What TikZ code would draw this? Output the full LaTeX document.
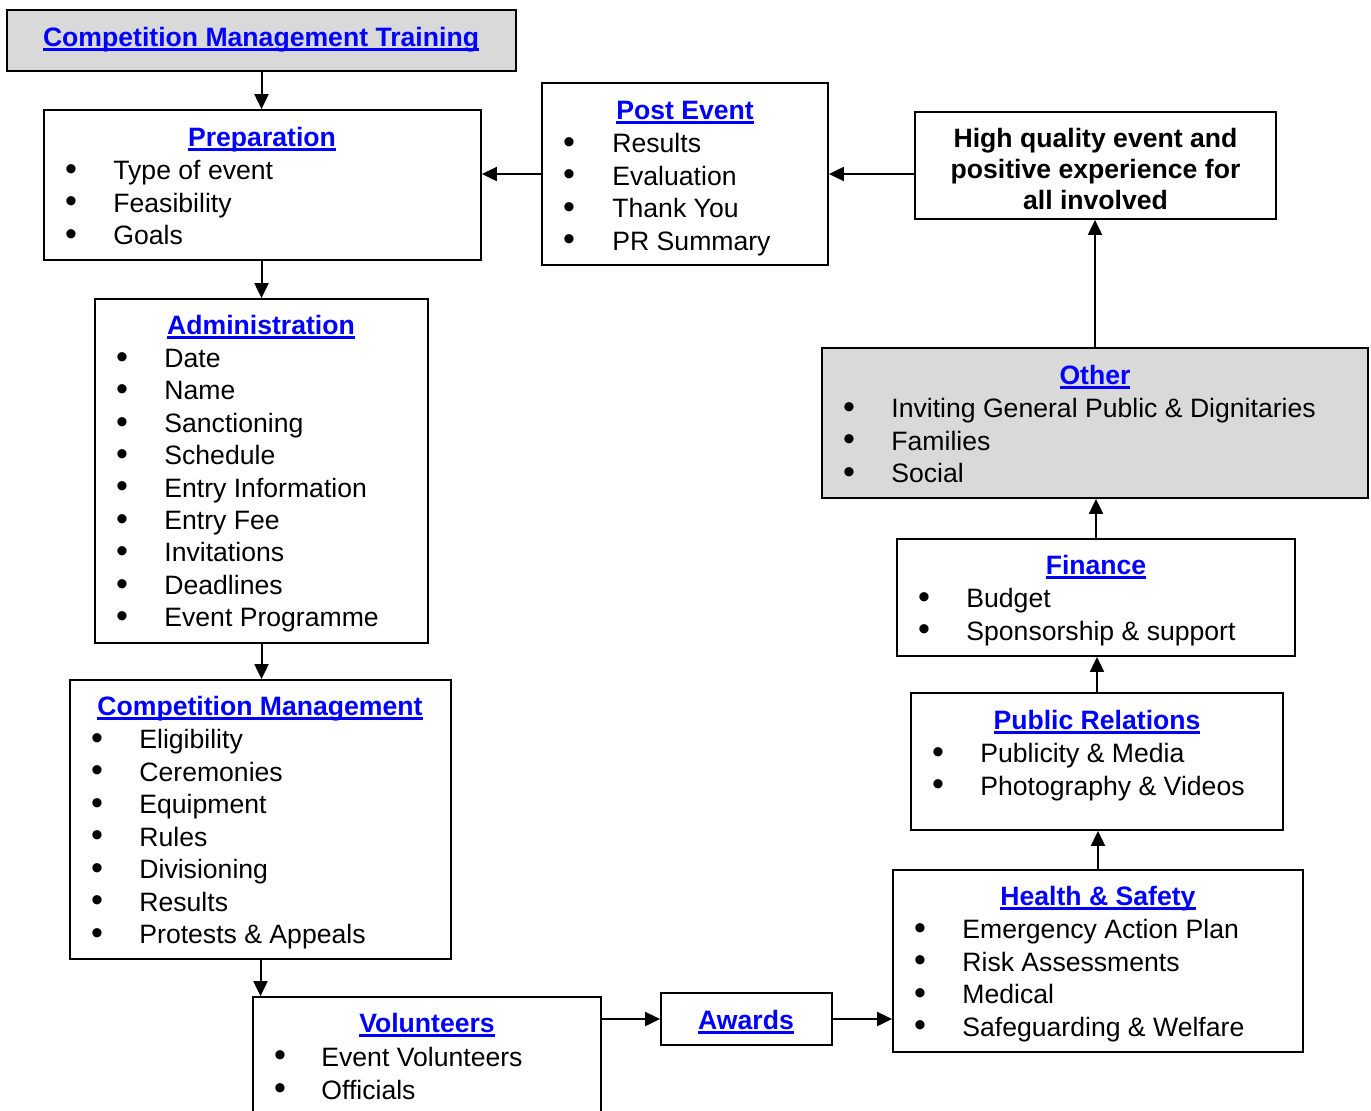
\documentclass[tikz,border=0pt]{standalone}
\usepackage{fontspec}
\setmainfont{Liberation Sans}
\usetikzlibrary{arrows.meta}
\definecolor{linkblue}{RGB}{0,0,255}
\definecolor{boxgray}{RGB}{217,217,217}
\newcommand{\linktitle}[1]{\setbox0\hbox{#1}\rlap{\rule[-2.3pt]{\wd0}{1.1pt}}\box0}

\begin{document}
\begin{tikzpicture}[x=0.5pt, y=-0.5pt,
    box/.style={draw, line width=0.9pt, inner sep=0pt},
    greybox/.style={box, fill=boxgray},
    title/.style={font=\fontsize{13.3pt}{16pt}\selectfont\bfseries, text=linkblue, anchor=base, inner sep=0pt},
    entry/.style={font=\fontsize{13.3pt}{16pt}\selectfont, anchor=base west, inner sep=0pt},
    bul/.style={font=\fontsize{17pt}{17pt}\selectfont, inner sep=0pt},
    arrow/.style={-{Triangle[length=7.5pt, width=7pt]}, line width=1pt},
]
\clip (0,0) rectangle (1371,1110);

% Training
\node[greybox, minimum width=254.5pt, minimum height=30.5pt] (train) at (261.5,40.5) {};
\node[title] (train-t) at (261,46) {\linktitle{Competition Management Training}};

% Preparation
\node[box, minimum width=218.5pt, minimum height=75pt] (prep) at (262.5,185) {};
\node[title] (prep-t) at (262,146) {\linktitle{Preparation}};
\foreach \t [count=\i] in {Type of event, Feasibility, Goals} {
  \node[bul] (prep-b\i) at (71,{146+32.5*\i-6}) {•};
  \node[entry] (prep-e\i) at (113,{147+32.5*\i}) {\t};
}

% Administration
\node[box, minimum width=166.5pt, minimum height=172pt] (admin) at (261.5,471) {};
\node[title] (admin-t) at (261,334) {\linktitle{Administration}};
\foreach \t [count=\i] in {Date, Name, Sanctioning, Schedule, Entry Information, Entry Fee, Invitations, Deadlines, Event Programme} {
  \node[bul] (admin-b\i) at (122,{334+32.4*\i-6}) {•};
  \node[entry] (admin-e\i) at (164,{335+32.4*\i}) {\t};
}

% Competition Management
\node[box, minimum width=190.5pt, minimum height=139.5pt] (comp) at (260.5,819.5) {};
\node[title] (comp-t) at (260,715) {\linktitle{Competition Management}};
\foreach \t [count=\i] in {Eligibility, Ceremonies, Equipment, Rules, Divisioning, Results, Protests \& Appeals} {
  \node[bul] (comp-b\i) at (97,{715+32.5*\i-6}) {•};
  \node[entry] (comp-e\i) at (139,{716+32.5*\i}) {\t};
}

% Volunteers
\node[box, minimum width=174pt, minimum height=66.5pt] (vol) at (427,1063.5) {};
\node[title] (vol-t) at (427,1032) {\linktitle{Volunteers}};
\foreach \t [count=\i] in {Event Volunteers, Officials} {
  \node[bul] (vol-b\i) at (280,{1032+33*\i-6}) {•};
  \node[entry] (vol-e\i) at (321,{1033+33*\i}) {\t};
}

% Awards
\node[box, minimum width=85.5pt, minimum height=26pt] (awards) at (746.5,1019) {};
\node[title] (awards-t) at (746,1029) {\linktitle{Awards}};

% Health & Safety
\node[box, minimum width=205pt, minimum height=91pt] (hs) at (1098,961) {};
\node[title] (hs-t) at (1098,905) {\linktitle{Health \& Safety}};
\foreach \t [count=\i] in {Emergency Action Plan, Risk Assessments, Medical, Safeguarding \& Welfare} {
  \node[bul] (hs-b\i) at (920,{905+32.5*\i-6}) {•};
  \node[entry] (hs-e\i) at (962,{906+32.5*\i}) {\t};
}

% Public Relations
\node[box, minimum width=186pt, minimum height=68.5pt] (pr) at (1097,761.5) {};
\node[title] (pr-t) at (1097,729) {\linktitle{Public Relations}};
\foreach \t [count=\i] in {Publicity \& Media, Photography \& Videos} {
  \node[bul] (pr-b\i) at (938,{729+32.5*\i-6}) {•};
  \node[entry] (pr-e\i) at (980,{730+32.5*\i}) {\t};
}

% Finance
\node[box, minimum width=199pt, minimum height=58.5pt] (fin) at (1096,597.5) {};
\node[title] (fin-t) at (1096,574) {\linktitle{Finance}};
\foreach \t [count=\i] in {Budget, Sponsorship \& support} {
  \node[bul] (fin-b\i) at (924,{574+32.5*\i-6}) {•};
  \node[entry] (fin-e\i) at (966,{575+32.5*\i}) {\t};
}

% Other
\node[greybox, minimum width=273pt, minimum height=75pt] (other) at (1095,423) {};
\node[title] (other-t) at (1095,384) {\linktitle{Other}};
\foreach \t [count=\i] in {Inviting General Public \& Dignitaries, Families, Social} {
  \node[bul] (other-b\i) at (849,{384+32.5*\i-6}) {•};
  \node[entry] (other-e\i) at (891,{385+32.5*\i}) {\t};
}

% Goal
\node[box, minimum width=180.5pt, minimum height=53.5pt] (goal) at (1095.5,165.5) {};
\node[align=center, inner sep=0pt, font=\fontsize{13.3pt}{15.5pt}\selectfont\bfseries] (goal-t) at (1095.5,168.5)
  {High quality event and\\positive experience for\\all involved};

% Post Event
\node[box, minimum width=143pt, minimum height=91pt] (post) at (685,174) {};
\node[title] (post-t) at (685,119) {\linktitle{Post Event}};
\foreach \t [count=\i] in {Results, Evaluation, Thank You, PR Summary} {
  \node[bul] (post-b\i) at (569,{119+32.5*\i-6}) {•};
  \node[entry] (post-e\i) at (612,{120+32.5*\i}) {\t};
}

% Flow
\draw[arrow] (train.south) -- (train.south |- prep.north);
\draw[arrow] (admin.north |- prep.south) -- (admin.north);
\draw[arrow] (admin.south) -- (admin.south |- comp.north);
\draw[arrow] (comp.south) -- (comp.south |- vol.north);
\draw[arrow] (vol.east |- awards.west) -- (awards.west);
\draw[arrow] (awards.east) -- (awards.east -| hs.west);
\draw[arrow] (hs.north) -- (hs.north |- pr.south);
\draw[arrow] (pr.north) -- (pr.north |- fin.south);
\draw[arrow] (fin.north) -- (fin.north |- other.south);
\draw[arrow] (other.north) -- (other.north |- goal.south);
\draw[arrow] (post.east -| goal.west) -- (post.east);
\draw[arrow] (post.west) -- (post.west -| prep.east);
\end{tikzpicture}
\end{document}
